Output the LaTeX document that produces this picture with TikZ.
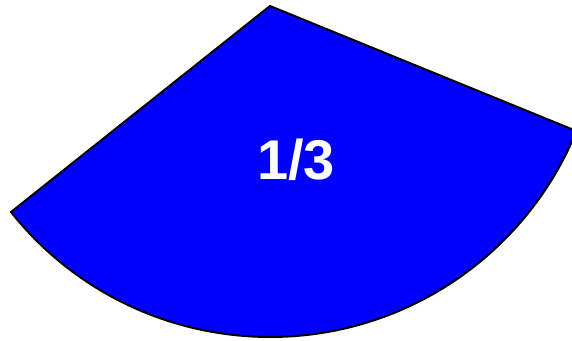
\documentclass[tikz,border=0pt]{standalone}
\usepackage{fontspec}
\setmainfont{Liberation Sans}
\usepackage{tikz}

\begin{document}
\begin{tikzpicture}[x=0.5pt,y=0.5pt]
    \useasboundingbox (0,0) rectangle (572,341);
    \coordinate (apex) at (270,335);
    \filldraw[fill=blue,draw=black,line width=1pt,line join=round]
      (apex) -- ++(218.5:331) arc[start angle=218.5,end angle=337.8,radius=331] -- cycle;
    \node[white,font=\bfseries\fontsize{28}{28}\selectfont] (frac) at (296,181) {1/3};
  \end{tikzpicture}
\end{document}
